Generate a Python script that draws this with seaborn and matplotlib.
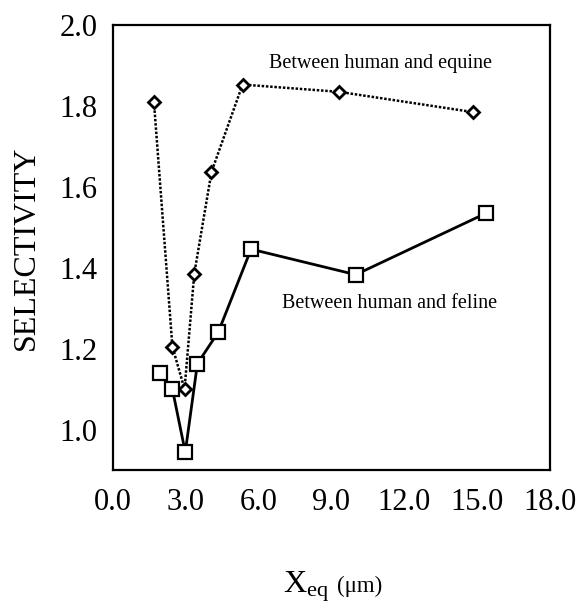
import matplotlib
matplotlib.use("Agg")
import matplotlib.pyplot as plt
import seaborn as sns
import pandas as pd

# Selectivity vs. equilibrium position
equine_x = [1.69, 2.45, 2.95, 3.35, 4.06, 5.34, 9.31, 14.82]
equine_y = [1.81, 1.205, 1.10, 1.385, 1.637, 1.853, 1.835, 1.785]

feline_x = [1.94, 2.45, 2.98, 3.48, 4.34, 5.69, 10.0, 15.37]
feline_y = [1.14, 1.10, 0.944, 1.163, 1.241, 1.446, 1.383, 1.535]

x_ticks = [0.0, 3.0, 6.0, 9.0, 12.0, 15.0, 18.0]
y_ticks = [1.0, 1.2, 1.4, 1.6, 1.8, 2.0]

equine = pd.DataFrame({"x": equine_x, "y": equine_y})
feline = pd.DataFrame({"x": feline_x, "y": feline_y})

sns.set_style("white")
plt.rcParams["font.family"] = ["Liberation Serif", "DejaVu Serif"]
plt.rcParams["mathtext.fontset"] = "custom"
plt.rcParams["mathtext.rm"] = "Liberation Serif"
plt.rcParams["mathtext.it"] = "Liberation Serif"
plt.rcParams["text.color"] = "black"
plt.rcParams["axes.labelcolor"] = "black"

fig = plt.figure(figsize=(5.82, 6.12), dpi=100)
ax = fig.add_axes([0.194, 0.232, 0.751, 0.727])

sns.lineplot(data=equine, x="x", y="y", ax=ax, sort=False, color="black",
             linestyle=(0, (1, 0.7)), linewidth=1.8, marker="D", markersize=6,
             markerfacecolor="white", markeredgecolor="black", markeredgewidth=2.0)
sns.lineplot(data=feline, x="x", y="y", ax=ax, sort=False, color="black",
             linestyle="-", linewidth=2.0, marker="s", markersize=9.5,
             markerfacecolor="white", markeredgecolor="black", markeredgewidth=1.6)

ax.set_xlim(0, 18)
ax.set_ylim(0.9, 2.0)
ax.set_xticks(x_ticks)
ax.set_yticks(y_ticks)
ax.set_xticklabels([f"{v:.1f}" for v in x_ticks])
ax.set_yticklabels([f"{v:.1f}" for v in y_ticks])
ax.tick_params(axis="both", direction="out", length=7, width=1.6,
               labelsize=22, pad=4, colors="black")
ax.tick_params(axis="x", pad=6)
for s in ax.spines.values():
    s.set_visible(True)
    s.set_color("black")
    s.set_linewidth(1.6)

ax.set_xlabel("")
ax.set_ylabel("SELECTIVITY", fontsize=23, color="black")
ax.yaxis.set_label_coords(-0.165, 0.5)

ax.text(11.0, 1.906, "Between human and equine", fontsize=14.5,
        ha="center", va="center", color="black")
ax.text(11.4, 1.312, "Between human and feline", fontsize=14.5,
        ha="center", va="center", color="black")

fig.text(0.486, 0.032, r"$\mathrm{X_{eq}}$", fontsize=23, ha="left",
         va="baseline", color="black")
fig.text(0.579, 0.032, "(\u03bcm)", fontsize=16.5, ha="left",
         va="baseline", color="black")

fig.savefig("out.png", dpi=100, facecolor="white")
